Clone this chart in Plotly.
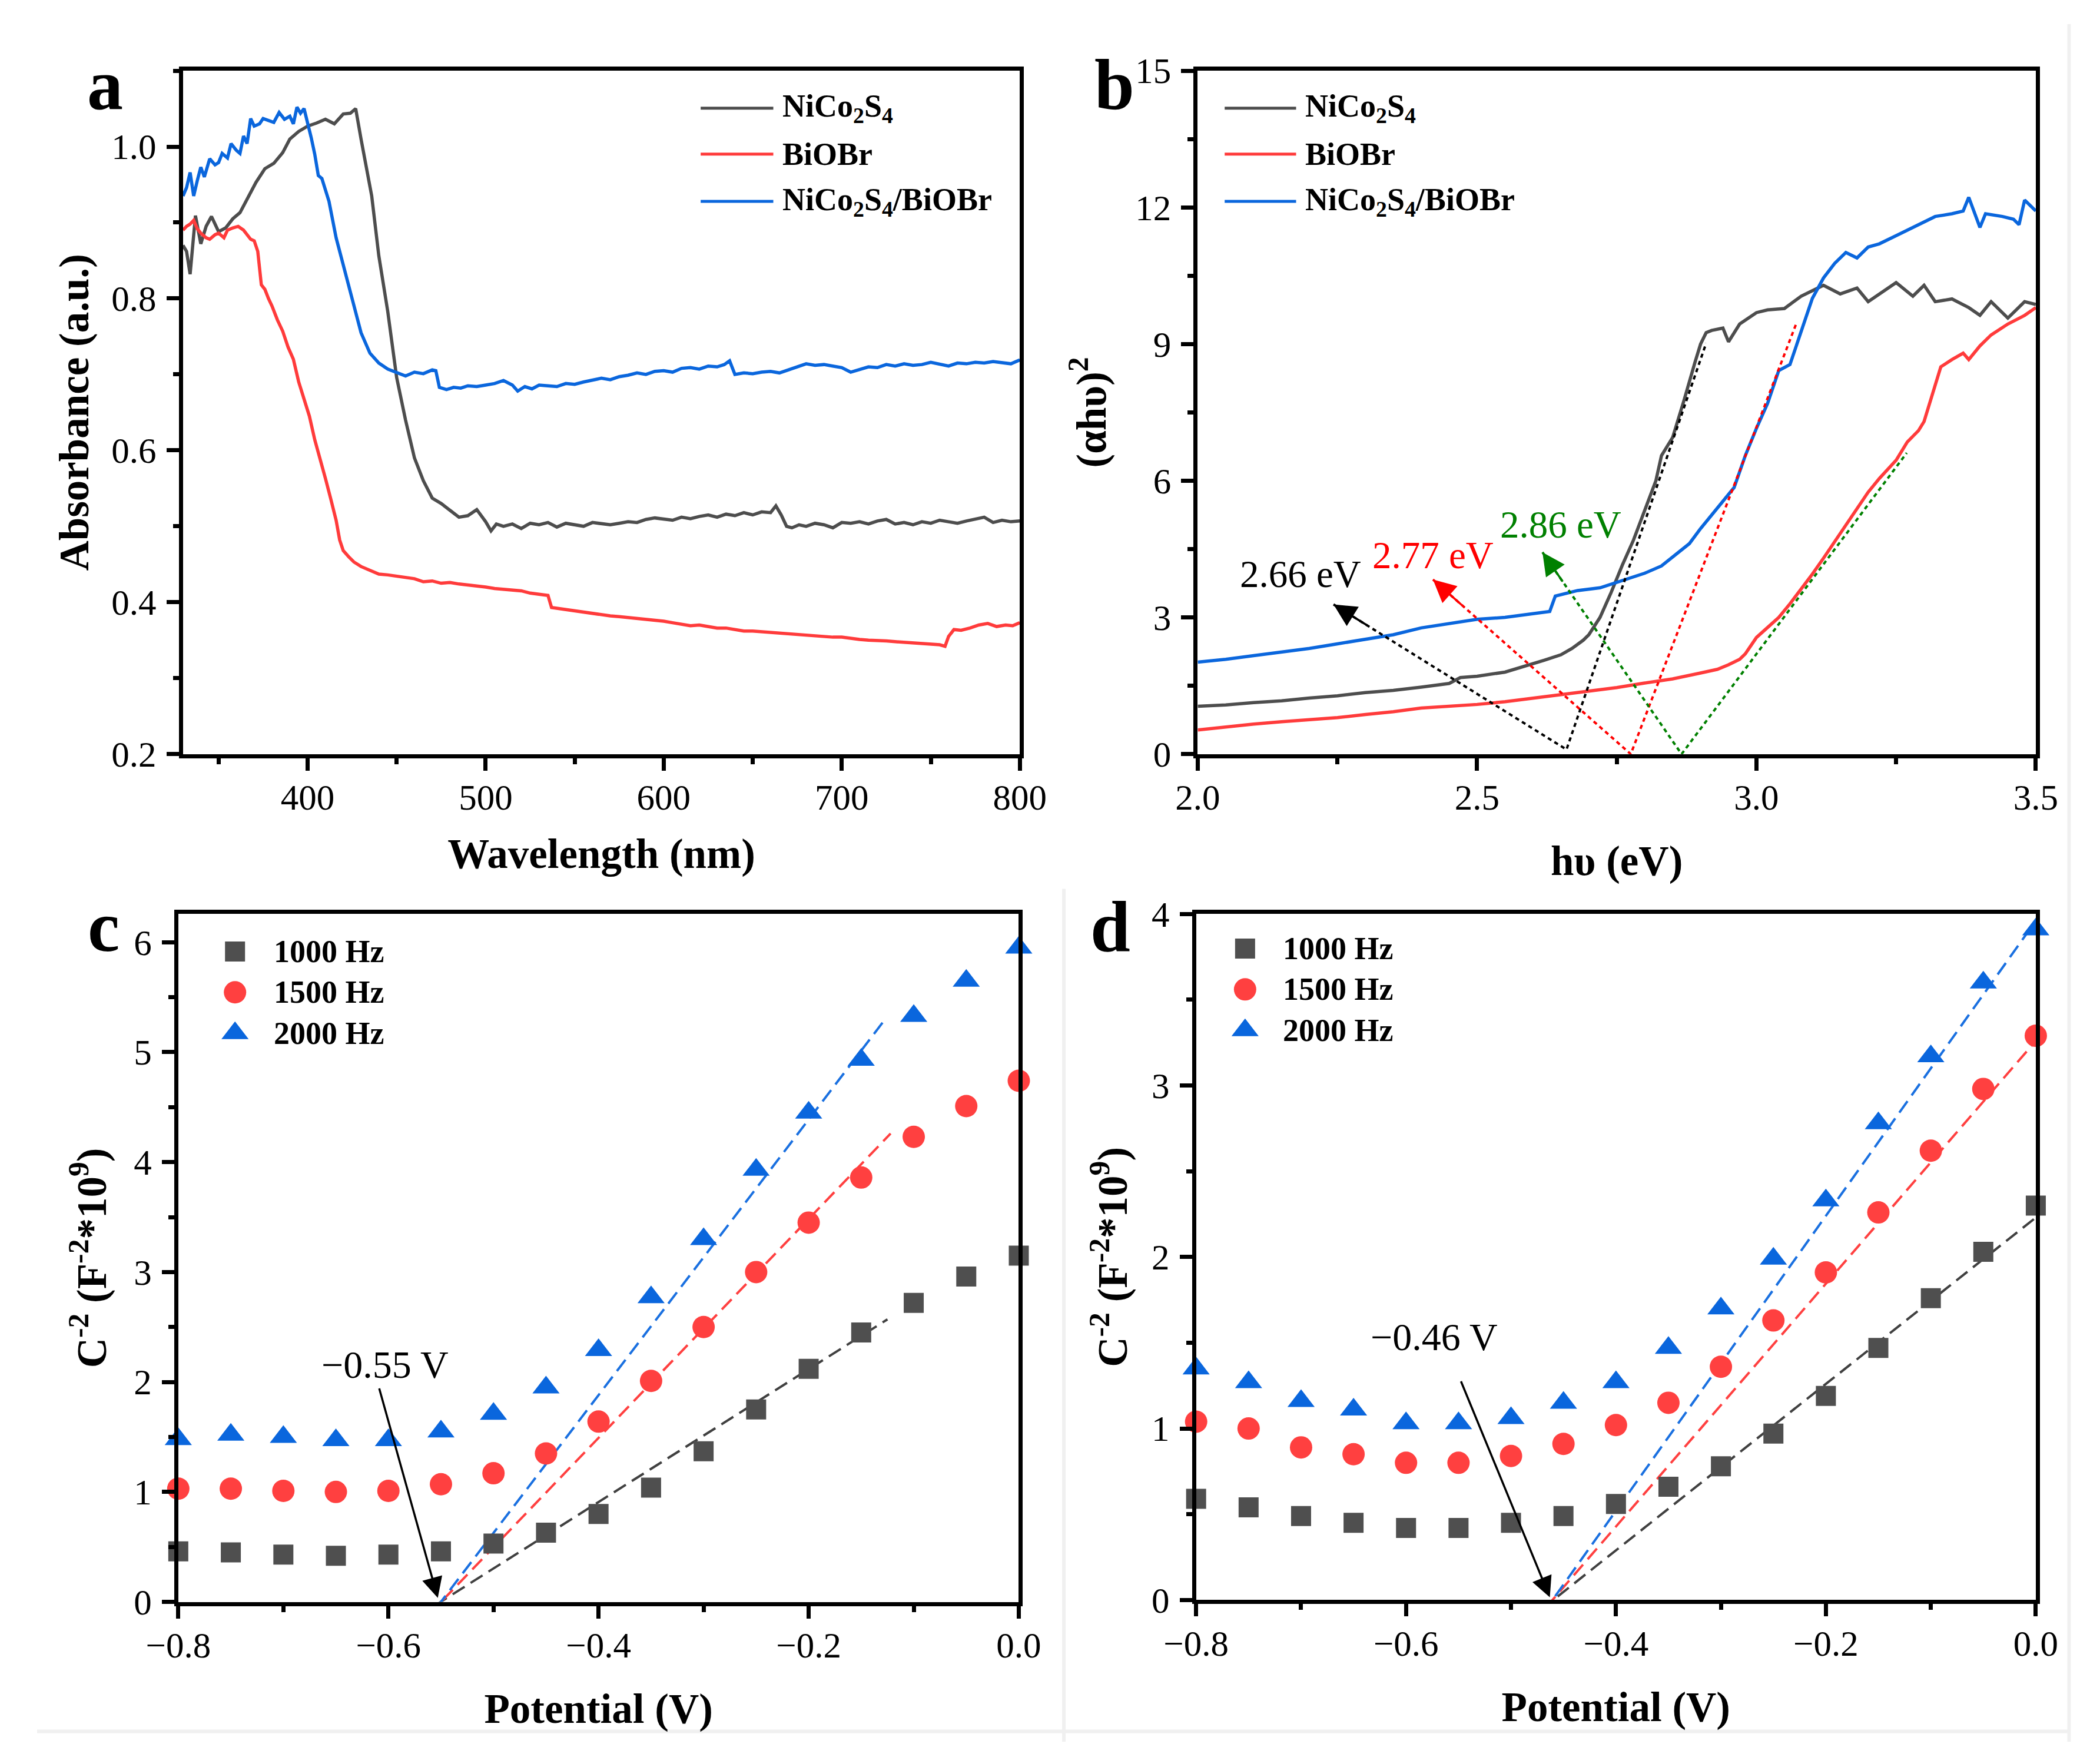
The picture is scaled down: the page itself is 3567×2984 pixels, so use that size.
import plotly.graph_objects as go

FONT = "Liberation Serif"

# ---- panel a: UV-vis absorbance ----
black_wl = [330, 332, 334, 337, 340, 343, 346, 350, 354, 358, 362, 366, 371, 376, 381, 386, 390, 395, 400, 405,
            410, 415, 420, 424, 427, 430, 433, 436, 440, 445, 450, 455, 460, 465, 470, 475, 480, 485, 490, 495,
            500, 503, 506, 510, 515, 520, 525, 530, 535, 540, 545, 550, 555, 560, 565, 570, 575, 580, 585, 590,
            595, 600, 605, 610, 615, 620, 625, 630, 635, 640, 645, 650, 655, 660, 663, 666, 669, 672, 676, 680,
            685, 690, 695, 700, 705, 710, 715, 720, 725, 730, 735, 740, 745, 750, 755, 760, 765, 770, 775, 780,
            785, 790, 795, 800]
black_abs = [0.870, 0.862, 0.832, 0.909, 0.872, 0.895, 0.908, 0.888, 0.893, 0.905, 0.913, 0.930, 0.953, 0.971,
             0.978, 0.992, 1.010, 1.020, 1.027, 1.031, 1.036, 1.030, 1.043, 1.044, 1.050, 1.010, 0.975, 0.935,
             0.856, 0.783, 0.696, 0.640, 0.590, 0.560, 0.537, 0.530, 0.521, 0.512, 0.514, 0.522, 0.506, 0.494,
             0.503, 0.500, 0.503, 0.497, 0.504, 0.502, 0.505, 0.499, 0.504, 0.502, 0.500, 0.505, 0.503, 0.502,
             0.504, 0.506, 0.505, 0.509, 0.511, 0.510, 0.508, 0.512, 0.510, 0.513, 0.515, 0.512, 0.516, 0.514,
             0.518, 0.515, 0.519, 0.518, 0.527, 0.515, 0.500, 0.498, 0.502, 0.500, 0.504, 0.502, 0.498, 0.505,
             0.504, 0.506, 0.503, 0.507, 0.509, 0.503, 0.505, 0.502, 0.506, 0.504, 0.508, 0.506, 0.504, 0.507,
             0.509, 0.512, 0.505, 0.508, 0.506, 0.507]

red_wl = [330, 332, 334, 336, 338, 340, 343, 345, 348, 350, 353, 355, 358, 361, 364, 366, 368, 370, 372, 374,
          376, 378, 380, 383, 386, 389, 392, 395, 398, 401, 404, 407, 410, 413, 416, 418, 420, 423, 426, 430,
          435, 440, 445, 450, 455, 460, 465, 470, 475, 480, 485, 490, 495, 500, 505, 510, 515, 520, 525, 530,
          535, 537, 540, 545, 550, 555, 560, 565, 570, 575, 580, 585, 590, 595, 600, 605, 610, 615, 620, 625,
          630, 635, 640, 645, 650, 655, 660, 665, 670, 675, 680, 685, 690, 695, 700, 705, 710, 715, 720, 725,
          730, 735, 740, 745, 750, 755, 758, 760, 763, 767, 772, 777, 782, 787, 792, 796, 800]
red_abs = [0.890, 0.895, 0.898, 0.903, 0.892, 0.886, 0.880, 0.878, 0.884, 0.886, 0.880, 0.890, 0.893, 0.895,
           0.890, 0.884, 0.878, 0.876, 0.862, 0.818, 0.812, 0.800, 0.790, 0.772, 0.757, 0.736, 0.720, 0.690,
           0.667, 0.645, 0.614, 0.590, 0.563, 0.536, 0.508, 0.482, 0.468, 0.460, 0.453, 0.447, 0.442, 0.437,
           0.436, 0.434, 0.433, 0.431, 0.427, 0.428, 0.425, 0.426, 0.424, 0.423, 0.421, 0.420, 0.418, 0.417,
           0.416, 0.415, 0.412, 0.411, 0.409, 0.393, 0.392, 0.390, 0.389, 0.387, 0.385, 0.383, 0.382, 0.381,
           0.380, 0.378, 0.377, 0.376, 0.375, 0.373, 0.371, 0.369, 0.370, 0.368, 0.366, 0.366, 0.364, 0.362,
           0.362, 0.361, 0.360, 0.359, 0.358, 0.357, 0.357, 0.356, 0.355, 0.354, 0.354, 0.352, 0.351, 0.350,
           0.350, 0.349, 0.348, 0.347, 0.347, 0.346, 0.345, 0.344, 0.342, 0.355, 0.364, 0.363, 0.366, 0.370,
           0.372, 0.368, 0.370, 0.369, 0.373]

blue_wl = [330, 332, 334, 336, 338, 340, 342, 345, 348, 350, 352, 355, 357, 360, 362, 364, 366, 368, 370, 373,
           375, 378, 381, 384, 387, 390, 392, 394, 396, 398, 400, 402, 404, 406, 408, 412, 416, 420, 425, 430,
           435, 440, 445, 450, 455, 460, 465, 470, 472, 474, 478, 482, 486, 490, 495, 500, 505, 510, 515, 518,
           522, 526, 530, 535, 540, 545, 550, 555, 560, 565, 570, 575, 580, 585, 590, 595, 600, 605, 610, 615,
           620, 625, 630, 634, 637, 640, 645, 650, 655, 660, 665, 670, 675, 680, 685, 690, 695, 700, 705, 710,
           715, 720, 725, 730, 735, 740, 745, 750, 755, 760, 765, 770, 775, 780, 785, 790, 795, 800]
blue_abs = [0.935, 0.946, 0.966, 0.935, 0.955, 0.973, 0.960, 0.984, 0.976, 0.979, 0.991, 0.985, 1.004, 0.995,
            0.991, 1.014, 1.004, 1.037, 1.027, 1.030, 1.037, 1.034, 1.032, 1.045, 1.036, 1.040, 1.030, 1.052,
            1.044, 1.050, 1.032, 1.012, 0.990, 0.962, 0.958, 0.928, 0.880, 0.845, 0.800, 0.755, 0.728, 0.715,
            0.707, 0.702, 0.698, 0.703, 0.701, 0.706, 0.705, 0.683, 0.680, 0.683, 0.682, 0.685, 0.684, 0.686,
            0.688, 0.692, 0.686, 0.678, 0.684, 0.681, 0.686, 0.685, 0.684, 0.688, 0.687, 0.690, 0.693, 0.695,
            0.693, 0.697, 0.699, 0.702, 0.700, 0.704, 0.705, 0.703, 0.708, 0.709, 0.707, 0.711, 0.710, 0.713,
            0.718, 0.700, 0.702, 0.701, 0.703, 0.704, 0.702, 0.706, 0.710, 0.714, 0.712, 0.713, 0.711, 0.709,
            0.703, 0.707, 0.710, 0.709, 0.713, 0.711, 0.714, 0.712, 0.713, 0.716, 0.713, 0.711, 0.715, 0.714,
            0.716, 0.715, 0.717, 0.716, 0.714, 0.719]

# ---- panel b: Tauc plot ----
tauc_black_e = [2.00, 2.05, 2.10, 2.15, 2.20, 2.25, 2.30, 2.35, 2.40, 2.45, 2.47, 2.50, 2.55, 2.60, 2.62, 2.65,
                2.67, 2.69, 2.70, 2.72, 2.74, 2.76, 2.78, 2.80, 2.82, 2.83, 2.85, 2.87, 2.88, 2.89, 2.90, 2.91,
                2.92, 2.94, 2.95, 2.97, 3.00, 3.02, 3.05, 3.08, 3.10, 3.12, 3.15, 3.18, 3.20, 3.22, 3.25, 3.28,
                3.30, 3.32, 3.35, 3.38, 3.40, 3.42, 3.45, 3.48, 3.50]
tauc_black = [1.05, 1.08, 1.13, 1.17, 1.23, 1.28, 1.35, 1.40, 1.47, 1.55, 1.68, 1.71, 1.80, 1.98, 2.06, 2.18,
              2.32, 2.50, 2.62, 3.00, 3.55, 4.15, 4.70, 5.35, 6.00, 6.55, 6.95, 7.75, 8.20, 8.60, 9.00, 9.25,
              9.30, 9.35, 9.05, 9.44, 9.69, 9.75, 9.78, 10.05, 10.17, 10.29, 10.10, 10.23, 9.93, 10.10, 10.35,
              10.05, 10.29, 9.93, 9.99, 9.80, 9.63, 9.93, 9.57, 9.93, 9.87]

tauc_red_e = [2.00, 2.05, 2.10, 2.15, 2.20, 2.25, 2.30, 2.35, 2.40, 2.45, 2.50, 2.55, 2.60, 2.65, 2.70, 2.75,
              2.80, 2.85, 2.90, 2.93, 2.95, 2.97, 2.98, 3.00, 3.02, 3.04, 3.06, 3.08, 3.10, 3.12, 3.15, 3.18,
              3.20, 3.22, 3.25, 3.27, 3.29, 3.30, 3.31, 3.33, 3.35, 3.37, 3.38, 3.40, 3.42, 3.45, 3.48, 3.50]
tauc_red = [0.53, 0.60, 0.66, 0.71, 0.75, 0.80, 0.87, 0.93, 1.01, 1.05, 1.09, 1.15, 1.23, 1.30, 1.39, 1.46,
            1.56, 1.65, 1.78, 1.86, 1.96, 2.08, 2.20, 2.56, 2.78, 3.00, 3.30, 3.62, 3.95, 4.30, 4.85, 5.40,
            5.75, 6.05, 6.45, 6.85, 7.10, 7.30, 7.70, 8.50, 8.66, 8.80, 8.66, 8.96, 9.20, 9.44, 9.63, 9.80]

tauc_blue_e = [2.00, 2.05, 2.10, 2.15, 2.20, 2.25, 2.30, 2.35, 2.40, 2.45, 2.50, 2.55, 2.60, 2.63, 2.64, 2.68,
               2.72, 2.75, 2.78, 2.80, 2.83, 2.86, 2.88, 2.90, 2.92, 2.94, 2.96, 2.98, 3.00, 3.02, 3.04, 3.06,
               3.08, 3.10, 3.12, 3.14, 3.16, 3.18, 3.20, 3.22, 3.25, 3.28, 3.30, 3.32, 3.35, 3.37, 3.38, 3.40,
               3.41, 3.44, 3.46, 3.47, 3.48, 3.50]
tauc_blue = [2.02, 2.08, 2.16, 2.24, 2.32, 2.42, 2.52, 2.62, 2.77, 2.86, 2.96, 3.00, 3.08, 3.13, 3.47, 3.59,
             3.65, 3.77, 3.89, 3.97, 4.13, 4.43, 4.62, 4.95, 5.25, 5.55, 5.85, 6.55, 7.15, 7.70, 8.42, 8.55,
             9.30, 10.00, 10.45, 10.77, 11.01, 10.89, 11.13, 11.20, 11.38, 11.56, 11.68, 11.80, 11.86, 11.92,
             12.22, 11.56, 11.86, 11.80, 11.74, 11.62, 12.16, 11.92]

# tangent construction: arrow tip -> intercept -> top of fitted segment
tan_black_x = [2.243, 2.66, 2.91]
tan_black_y = [3.285, 0.10, 9.02]
tan_red_x = [2.421, 2.775, 3.071]
tan_red_y = [3.83, 0.0, 9.44]
tan_green_x = [2.617, 2.866, 3.269]
tan_green_y = [4.43, 0.0, 6.61]
gap_labels = ["2.66 eV", "2.77 eV", "2.86 eV"]
gap_label_x = [2.184, 2.421, 2.650]
gap_label_y = [3.95, 4.37, 5.04]

# ---- panels c, d: Mott-Schottky ----
potential = [-0.80, -0.75, -0.70, -0.65, -0.60, -0.55, -0.50, -0.45, -0.40, -0.35, -0.30, -0.25, -0.20,
             -0.15, -0.10, -0.05, 0.00]
c_1000 = [0.46, 0.45, 0.43, 0.42, 0.43, 0.46, 0.53, 0.63, 0.80, 1.04, 1.37, 1.75, 2.12, 2.45, 2.72, 2.96, 3.15]
c_1500 = [1.03, 1.03, 1.01, 1.00, 1.01, 1.07, 1.17, 1.35, 1.64, 2.01, 2.50, 3.00, 3.45, 3.86, 4.23, 4.51, 4.74]
c_2000 = [1.48, 1.52, 1.50, 1.47, 1.47, 1.55, 1.71, 1.95, 2.29, 2.77, 3.30, 3.93, 4.45, 4.93, 5.33, 5.65, 5.95]
d_1000 = [0.59, 0.54, 0.49, 0.45, 0.42, 0.42, 0.45, 0.49, 0.56, 0.66, 0.78, 0.97, 1.19, 1.47, 1.76, 2.03, 2.30]
d_1500 = [1.04, 1.00, 0.89, 0.85, 0.80, 0.80, 0.84, 0.91, 1.02, 1.15, 1.36, 1.63, 1.91, 2.26, 2.62, 2.98, 3.29]
d_2000 = [1.35, 1.27, 1.16, 1.11, 1.03, 1.03, 1.06, 1.15, 1.27, 1.47, 1.70, 1.99, 2.33, 2.78, 3.17, 3.60, 3.91]

c_fit_1000_x, c_fit_1000_y = [-0.59, -0.125], [-0.24, 2.57]
c_fit_1500_x, c_fit_1500_y = [-0.59, -0.122], [-0.40, 4.26]
c_fit_2000_x, c_fit_2000_y = [-0.566, -0.128], [-0.20, 5.29]
d_fit_1000_x, d_fit_1000_y = [-0.503, 0.0], [-0.21, 2.23]
d_fit_1500_x, d_fit_1500_y = [-0.493, 0.0], [-0.23, 3.26]
d_fit_2000_x, d_fit_2000_y = [-0.493, 0.0], [-0.28, 3.96]

series_names = ["NiCo<sub>2</sub>S<sub>4</sub>", "BiOBr", "NiCo<sub>2</sub>S<sub>4</sub>/BiOBr"]
freq_names = ["1000 Hz", "1500 Hz", "2000 Hz"]

GRAY, RED, BLUE = "#4d4d4d", "#ff3b3b", "#0a66dd"
M_GRAY, M_RED, M_BLUE = "#4f4f4f", "#ff4040", "#0a66dd"

fig = go.Figure()


def add_line(x, y, color, xa, ya, width=5.5, dash=None):
    fig.add_trace(go.Scatter(x=x, y=y, mode="lines", xaxis=xa, yaxis=ya, showlegend=False,
                             hoverinfo="skip", line=dict(color=color, width=width, dash=dash)))


def add_points(x, y, color, symbol, size, xa, ya):
    fig.add_trace(go.Scatter(x=x, y=y, mode="markers", xaxis=xa, yaxis=ya, showlegend=False,
                             cliponaxis=False, hoverinfo="skip",
                             marker=dict(color=color, symbol=symbol, size=size, line=dict(width=0))))


# panel a
add_line(black_wl, black_abs, GRAY, "x", "y")
add_line(red_wl, red_abs, RED, "x", "y")
add_line(blue_wl, blue_abs, BLUE, "x", "y")

# panel b
add_line(tauc_black_e, tauc_black, GRAY, "x2", "y2")
add_line(tauc_red_e, tauc_red, RED, "x2", "y2")
add_line(tauc_blue_e, tauc_blue, BLUE, "x2", "y2")
DOT = "7px,6px"
add_line(tan_black_x, tan_black_y, "#000000", "x2", "y2", width=4, dash=DOT)
add_line(tan_red_x, tan_red_y, "#ff0000", "x2", "y2", width=4, dash=DOT)
add_line(tan_green_x, tan_green_y, "#008000", "x2", "y2", width=4, dash=DOT)

# panels c, d
DASH = "24px,12px"
SQ, CI, TR = 34, 38, 40
for xa, ya, fits, sets in [
    ("x3", "y3",
     [(c_fit_1000_x, c_fit_1000_y), (c_fit_1500_x, c_fit_1500_y), (c_fit_2000_x, c_fit_2000_y)],
     [c_1000, c_1500, c_2000]),
    ("x4", "y4",
     [(d_fit_1000_x, d_fit_1000_y), (d_fit_1500_x, d_fit_1500_y), (d_fit_2000_x, d_fit_2000_y)],
     [d_1000, d_1500, d_2000]),
]:
    for (fx, fy), col in zip(fits, ["#404040", "#ff4040", "#1a70e0"]):
        add_line(fx, fy, col, xa, ya, width=4, dash=DASH)
    add_points(potential, sets[0], M_GRAY, "square", SQ, xa, ya)
    add_points(potential, sets[1], M_RED, "circle", CI, xa, ya)
    add_points(potential, sets[2], M_BLUE, "triangle-up", TR, xa, ya)

# legend glyphs on an invisible full-page axis
LEG_A_X, LEG_B_X = [0.3252, 0.3608], [0.582, 0.617]
LEG_AB_Y = [0.9511, 0.9243, 0.8968]
for lx in (LEG_A_X, LEG_B_X):
    for ly, col in zip(LEG_AB_Y, [GRAY, RED, BLUE]):
        add_line(lx, [ly, ly], col, "x5", "y5", width=5)
for mx, ys in [(0.097, [0.4601, 0.4363, 0.4125]), (0.592, [0.4618, 0.4380, 0.4142])]:
    add_points([mx], [ys[0]], M_GRAY, "square", SQ, "x5", "y5")
    add_points([mx], [ys[1]], M_RED, "circle", CI, "x5", "y5")
    add_points([mx], [ys[2]], M_BLUE, "triangle-up", TR, "x5", "y5")

tick_font = dict(family=FONT, size=61, color="black")
title_font = dict(family=FONT, size=71, color="black", weight="bold")


def axis(domain, rng, dtick, minor, fmt, anchor, title, standoff, lab_off):
    return dict(domain=domain, range=rng, dtick=dtick, tick0=0, tickformat=fmt, anchor=anchor,
                showline=True, linewidth=7, linecolor="black", mirror=True,
                ticks="outside", ticklen=21, tickwidth=7, tickcolor="black",
                ticklabelstandoff=lab_off,
                showgrid=False, zeroline=False, tickfont=tick_font,
                minor=dict(dtick=minor, ticks="outside", ticklen=10, tickwidth=7, tickcolor="black",
                           showgrid=False),
                title=dict(text=title, font=title_font, standoff=standoff))


MS_TITLE = "C<sup>-2</sup> (F<sup>-2</sup>*10<sup>9</sup>)"
TOP_ROW = [0.575, 0.9729]
layout = dict(
    width=3567, height=2984, margin=dict(l=0, r=0, t=0, b=0),
    paper_bgcolor="white", plot_bgcolor="rgba(0,0,0,0)", showlegend=False,
    xaxis=axis([0.0715, 0.4816], [330, 800], 100, 50, "d", "y", "Wavelength (nm)", 40, -7),
    yaxis=axis(TOP_ROW, [0.2, 1.1], 0.2, 0.1, ".1f", "x", "Absorbance (a.u.)", 18, 5),
    xaxis2=axis([0.5688, 0.9795], [2.0, 3.5], 0.5, 0.25, ".1f", "y2", "h\u03c5 (eV)", 52, -7),
    yaxis2=axis(TOP_ROW, [0, 15], 3, 1.5, "d", "x2", "(\u03b1h\u03c5)<sup>2</sup>", 29, 5),
    xaxis3=axis([0.0692, 0.4811], [-0.8, 0.0], 0.2, 0.1, ".1f", "y3", "Potential (V)", 52, -7),
    yaxis3=axis([0.0814, 0.4819], [0, 6.257], 1, 0.5, "d", "x3", MS_TITLE, 26, 5),
    xaxis4=axis([0.568, 0.9795], [-0.8, 0.0], 0.2, 0.1, ".1f", "y4", "Potential (V)", 52, -7),
    yaxis4=axis([0.0825, 0.4819], [0, 4], 1, 0.5, "d", "x4", MS_TITLE, 21, 5),
    xaxis5=dict(domain=[0, 1], range=[0, 1], visible=False, anchor="y5", fixedrange=True),
    yaxis5=dict(domain=[0, 1], range=[0, 1], visible=False, anchor="x5", fixedrange=True),
)
fig.update_layout(**layout)

ann = []
# panel letters
for txt, px, py in [("a", 0.0333, 0.965), ("b", 0.528, 0.965), ("c", 0.0325, 0.4747), ("d", 0.526, 0.4747)]:
    ann.append(dict(text=txt, x=px, y=py, xref="paper", yref="paper", showarrow=False,
                    xanchor="center", yanchor="middle",
                    font=dict(family=FONT, size=122, color="black", weight="bold")))

leg_font = dict(family=FONT, size=54, color="black", weight="bold")
for tx, names, ys in [(0.3647, series_names, LEG_AB_Y), (0.621, series_names, LEG_AB_Y),
                      (0.1155, freq_names, [0.4601, 0.4363, 0.4125]),
                      (0.610, freq_names, [0.4618, 0.4380, 0.4142])]:
    for name, ly in zip(names, ys):
        ann.append(dict(text=name, x=tx, y=ly, xref="paper", yref="paper", showarrow=False,
                        xanchor="left", yanchor="middle", font=leg_font))

# band-gap labels and arrowheads in panel b
for lbl, lx, ly, col, tx, ty in zip(gap_labels, gap_label_x, gap_label_y, ["#000000", "#ff0000", "#008000"],
                                    [tan_black_x, tan_red_x, tan_green_x],
                                    [tan_black_y, tan_red_y, tan_green_y]):
    ann.append(dict(text=lbl, x=lx, y=ly, xref="x2", yref="y2", showarrow=False,
                    font=dict(family=FONT, size=65, color=col)))
    tail_x = tx[0] + 0.15 * (tx[1] - tx[0])
    tail_y = ty[0] + 0.15 * (ty[1] - ty[0])
    ann.append(dict(text="", x=tx[0], y=ty[0], xref="x2", yref="y2", ax=tail_x, ay=tail_y,
                    axref="x2", ayref="y2", showarrow=True, arrowhead=2, arrowsize=2.2,
                    arrowwidth=3.5, arrowcolor=col, standoff=0))

# flat-band potential labels
for xr, yr, lbl, lx, ly, tail, tip in [
    ("x3", "y3", "\u22120.55 V", -0.603, 2.157, (-0.609, 1.95), (-0.553, 0.036)),
    ("x4", "y4", "\u22120.46 V", -0.573, 1.533, (-0.548, 1.28), (-0.463, 0.016)),
]:
    ann.append(dict(text=lbl, x=lx, y=ly, xref=xr, yref=yr, showarrow=False,
                    font=dict(family=FONT, size=66, color="black")))
    ann.append(dict(text="", x=tip[0], y=tip[1], xref=xr, yref=yr, ax=tail[0], ay=tail[1],
                    axref=xr, ayref=yr, showarrow=True, arrowhead=2, arrowsize=2.0,
                    arrowwidth=3.5, arrowcolor="black", standoff=0))

fig.update_layout(annotations=ann)

# faint panel borders of the original figure
for s in [dict(x0=0.5032, x1=0.5032, y0=0.0, y1=0.4966), dict(x0=0.9958, x1=0.9958, y0=0.0, y1=1.0),
          dict(x0=0.0, x1=0.9958, y0=0.006, y1=0.006)]:
    fig.add_shape(type="line", xref="paper", yref="paper", line=dict(color="#f0f0f0", width=6), **s)

fig.write_html("out.html")
